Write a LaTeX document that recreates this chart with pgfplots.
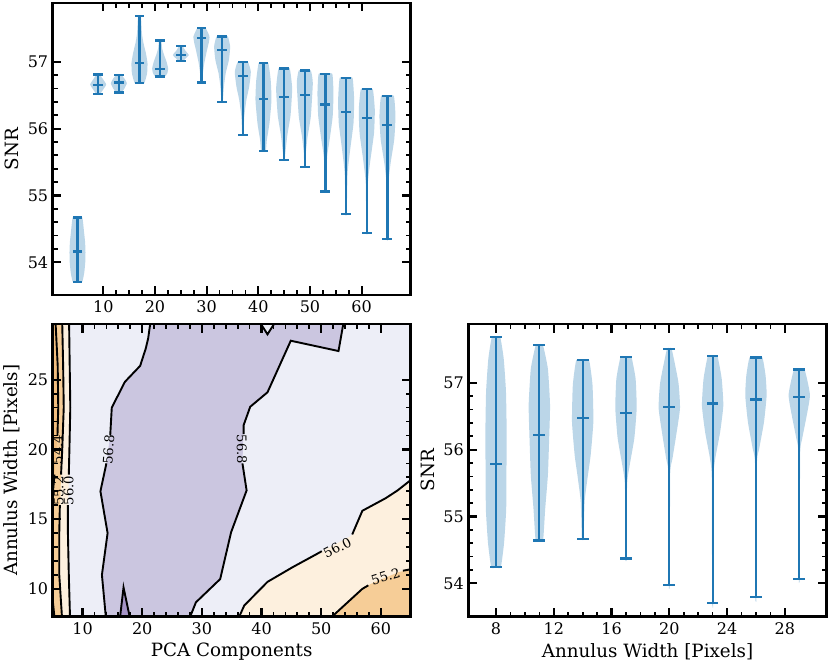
\documentclass[border=0pt]{standalone}
\usepackage{fontspec}
\setmainfont{DejaVu Serif}
\usepackage{pgfplots}
\pgfplotsset{compat=1.18}

\definecolor{vblue}{HTML}{1F77B4}
\definecolor{lev0}{HTML}{F2BE7F}
\definecolor{lev1}{HTML}{F6CD97}
\definecolor{lev2}{HTML}{FDF0DE}
\definecolor{lev3}{HTML}{EDEEF7}
\definecolor{lev4}{HTML}{CBC6E0}
\definecolor{lev5}{HTML}{A594C6}

\newcommand{\tickfont}{\fontsize{16}{19}\selectfont}
\newcommand{\labfont}{\fontsize{18.3}{21}\selectfont}
\newcommand{\clabfont}{\fontsize{13.2}{15}\selectfont}

\pgfplotsset{
  panel/.style={
    scale only axis,
    tick align=inside,
    tick pos=both,
    major tick length=8.5pt,
    minor tick length=4.8pt,
    major tick style={line width=2.2pt,black},
    minor tick style={line width=1.7pt,black},
    axis line style={line width=2.6pt},
    tick label style={font=\tickfont},
    /pgf/number format/assume math mode=true,
    scaled ticks=false,
    y tick label style={xshift=-1pt},
    x tick label style={yshift=-2pt},
    xlabel style={font=\labfont,at={(axis description cs:0.5,-0.12)},anchor=center},
    ylabel style={font=\labfont,at={(axis description cs:-0.1137,0.5)},anchor=center},
  },
  cline/.style={black,line width=1.9pt,no markers},
  vline/.style={vblue,line width=2.2pt,no markers,line cap=rect},
  vfill/.style={fill=vblue,fill opacity=0.3,draw=none,no markers,smooth,tension=0.3},
}

% centre, half width, cap half length, min, median, max, rows "y fraction\\"
\newcommand{\violin}[7]{%
  \addplot[vfill] table[x expr=#1+#2*\thisrow{f},y=y,row sep=\\] {y f\\ #4 0\\ #7 #6 0\\};
  \addplot[vfill] table[x expr=#1-#2*\thisrow{f},y=y,row sep=\\] {y f\\ #4 0\\ #7 #6 0\\};
  \pgfmathsetmacro{\xl}{#1-#3}\pgfmathsetmacro{\xr}{#1+#3}
  \addplot[vline] coordinates {(#1,#4) (#1,#6)};
  \addplot[vline] coordinates {(\xl,#4) (\xr,#4)};
  \addplot[vline] coordinates {(\xl,#5) (\xr,#5)};
  \addplot[vline] coordinates {(\xl,#6) (\xr,#6)};
}
\newcommand{\vtopp}[5]{\violin{#1}{1.55}{0.75}{#2}{#3}{#4}{#5}}
\newcommand{\vrgt}[5]{\violin{#1}{0.74}{0.33}{#2}{#3}{#4}{#5}}

\begin{document}
\begin{tikzpicture}
\path[use as bounding box] (0,0) rectangle (830pt,664pt);

% SNR against PCA components
\begin{axis}[panel,at={(52.7pt,369pt)},anchor=south west,width=358pt,height=292pt,
    xmin=0.2,xmax=69.5,ymin=53.51,ymax=57.88,
    xtick={10,20,30,40,50,60},ytick={54,55,56,57},
    minor x tick num=3,minor y tick num=4,
    ylabel={SNR}]
\vtopp{5}{53.71}{54.16}{54.67}{53.71 .6\\ 53.85 .85\\ 54.0 .97\\ 54.15 1\\ 54.3 .95\\ 54.45 .82\\ 54.67 .6\\}
\vtopp{9}{56.52}{56.65}{56.81}{56.52 .25\\ 56.58 .6\\ 56.66 1\\ 56.74 .6\\ 56.81 .2\\}
\vtopp{13}{56.54}{56.69}{56.80}{56.54 .35\\ 56.6 .7\\ 56.68 1\\ 56.75 .7\\ 56.80 .35\\}
\vtopp{17}{56.68}{56.98}{57.69}{56.68 .6\\ 56.83 .95\\ 56.98 1\\ 57.13 .8\\ 57.28 .5\\ 57.43 .3\\ 57.69 .18\\}
\vtopp{21}{56.78}{56.89}{57.32}{56.78 .6\\ 56.83 .9\\ 56.9 1\\ 57.0 .8\\ 57.1 .5\\ 57.2 .25\\ 57.32 .15\\}
\vtopp{25}{57.01}{57.10}{57.24}{57.01 .3\\ 57.05 .6\\ 57.10 1\\ 57.17 .55\\ 57.24 .2\\}
\vtopp{29}{56.69}{57.36}{57.51}{56.69 .1\\ 56.83 .18\\ 56.98 .35\\ 57.18 .7\\ 57.28 .9\\ 57.38 1\\ 57.51 .5\\}
\vtopp{33}{56.40}{57.18}{57.38}{56.4 .08\\ 56.63 .22\\ 56.83 .45\\ 57.03 .85\\ 57.23 1\\ 57.38 .7\\}
\vtopp{37}{55.90}{56.79}{56.995}{55.9 .08\\ 56.18 .18\\ 56.43 .45\\ 56.63 .8\\ 56.85 1\\ 56.995 .65\\}
\vtopp{41}{55.67}{56.44}{56.98}{55.67 .3\\ 55.83 .42\\ 56.08 .75\\ 56.43 1\\ 56.73 .9\\ 56.98 .6\\}
\vtopp{45}{55.53}{56.47}{56.90}{55.53 .1\\ 55.6 .12\\ 55.9 .4\\ 56.2 .8\\ 56.6 1\\ 56.9 .7\\}
\vtopp{49}{55.42}{56.50}{56.87}{55.42 .08\\ 55.63 .12\\ 55.88 .35\\ 56.18 .75\\ 56.68 1\\ 56.87 .75\\}
\vtopp{53}{55.06}{56.36}{56.82}{55.06 .07\\ 55.57 .2\\ 55.82 .5\\ 56.18 .9\\ 56.53 1\\ 56.82 .85\\}
\vtopp{57}{54.72}{56.25}{56.76}{54.72 .07\\ 55.33 .18\\ 55.68 .5\\ 56.08 .92\\ 56.43 1\\ 56.76 .8\\}
\vtopp{61}{54.44}{56.16}{56.59}{54.44 .07\\ 55.18 .13\\ 55.53 .45\\ 55.93 .9\\ 56.28 1\\ 56.59 .75\\}
\vtopp{65}{54.35}{56.05}{56.49}{54.35 .07\\ 55.19 .13\\ 55.49 .4\\ 55.84 .85\\ 56.19 1\\ 56.49 .8\\}
\end{axis}

% filled contours
\begin{axis}[panel,at={(52.7pt,47.3pt)},anchor=south west,width=358pt,height=292.7pt,
    axis on top,
    xmin=5,xmax=65,ymin=8,ymax=29,
    xtick={10,20,30,40,50,60},ytick={10,15,20,25},
    minor x tick num=4,minor y tick num=4,
    xlabel={PCA Components},ylabel={Annulus Width [Pixels]}]
\addplot[fill=lev3,draw=none,no markers] coordinates {(5,8) (65,8) (65,29) (5,29)};
% 56.8 to 57.6
\addplot[fill=lev4,draw=none,no markers] coordinates {(13.9,8) (13.25,11) (14.2,14) (13,17) (14,19) (14.64,21) (14.9,23) (17.1,24.85) (19.66,26) (20.6,27.25) (21,27.97) (21.34,29) (39.9,29) (41,28.26) (42.1,29) (53.7,29) (52.9,27.06) (44.9,27.8) (41,24.1) (38.1,23.06) (37,21.74) (36.8,19) (37.5,17.06) (34.9,14.06) (33.07,10.7) (29,9.03) (28.04,8)};
\addplot[fill=lev5,draw=none,no markers] coordinates {(16.3,8) (16.87,10.1) (17.9,8)};
% lower right corner
\addplot[fill=lev2,draw=none,no markers] coordinates {(36.26,8) (37.1,8.8) (41,10.5) (45.2,11.55) (49.1,12.46) (55,13.8) (56.9,15.6) (60.8,16.5) (62.8,17.06) (65,17.8) (65,8)};
\addplot[fill=lev1,draw=none,no markers] coordinates {(51.8,8) (56.9,10) (58.3,10.35) (63,11.2) (65,11.4) (65,8)};
% left edge
\addplot[fill=lev2,draw=none,no markers] coordinates {(5,8) (7.9,8) (7.7,11) (7.55,14) (7.65,17) (7.8,20) (7.95,23) (7.85,26) (7.75,29) (5,29)};
\addplot[fill=lev1,draw=none,no markers] coordinates {(5,8) (6.55,8) (6.1,11) (6.1,14) (6.3,17) (6.6,20) (6.85,23) (6.75,26) (6.6,29) (5,29)};
\addplot[fill=lev0,draw=none,no markers] coordinates {(5,16.9) (5.05,17) (5.64,20) (5.93,23) (5.84,26) (5.49,29) (5,29)};
\addplot[fill=lev0,draw=none,no markers] coordinates {(5,8) (5.28,8) (5,9.2)};
% contour lines, broken where the labels sit
\addplot[cline] coordinates {(13.9,8) (13.25,11) (14.2,14) (13,17) (14,19)};
\addplot[cline] coordinates {(14.64,21) (14.9,23) (17.1,24.85) (19.66,26) (20.6,27.25) (21,27.97) (21.34,29)};
\addplot[cline] coordinates {(28.04,8) (29,9.03) (33.07,10.7) (34.9,14.06) (37.5,17.06) (36.8,19)};
\addplot[cline] coordinates {(37,21.1) (37,21.74) (38.1,23.06) (41,24.1) (44.9,27.8) (52.9,27.06) (53.7,29)};
\addplot[cline] coordinates {(39.9,29) (41,28.26) (42.1,29)};
\addplot[cline] coordinates {(16.3,8) (16.87,10.1) (17.9,8)};
\addplot[cline] coordinates {(36.26,8) (37.1,8.8) (41,10.5) (45.2,11.55) (49.1,12.46) (50.1,12.7)};
\addplot[cline] coordinates {(55.2,13.9) (56.9,15.6) (60.8,16.5) (62.8,17.06) (65,17.8)};
\addplot[cline] coordinates {(51.8,8) (56.9,10) (57.9,10.25)};
\addplot[cline] coordinates {(63.7,11.3) (65,11.4)};
\addplot[cline] coordinates {(7.9,8) (7.7,11) (7.55,14) (7.55,16)};
\addplot[cline] coordinates {(7.7,18.2) (7.8,20) (7.95,23) (7.85,26) (7.75,29)};
\addplot[cline] coordinates {(6.55,8) (6.1,11) (6.1,14) (6.2,16)};
\addplot[cline] coordinates {(6.4,18.2) (6.6,20) (6.85,23) (6.75,26) (6.6,29)};
\addplot[cline] coordinates {(5.8,21) (5.93,23) (5.84,26) (5.49,29)};
\addplot[cline] coordinates {(5.3,18.2) (5.05,17) (5,16.9)};
\addplot[cline] coordinates {(5,9.2) (5.28,8)};
\node[rotate=86,font=\clabfont,inner sep=0pt] at (axis cs:14.36,20) {56.8};
\node[rotate=-89,font=\clabfont,inner sep=0pt] at (axis cs:36.7,20) {56.8};
\node[rotate=27,font=\clabfont,inner sep=0pt] at (axis cs:52.7,12.94) {56.0};
\node[rotate=17,font=\clabfont,inner sep=0pt] at (axis cs:60.8,10.9) {55.2};
\node[rotate=90,font=\clabfont,inner sep=0pt] at (axis cs:7.65,17.06) {56.0};
\node[rotate=90,font=\clabfont,inner sep=0pt] at (axis cs:6.0,17) {55.2};
\node[rotate=90,font=\clabfont,inner sep=0pt] at (axis cs:5.8,20) {54.4};
\end{axis}

% SNR against annulus width
\begin{axis}[panel,at={(468.3pt,47.3pt)},anchor=south west,width=358.4pt,height=292.7pt,
    xmin=6.08,xmax=30.9,ymin=53.5,ymax=57.88,
    xtick={8,12,16,20,24,28},ytick={54,55,56,57},
    minor x tick num=3,minor y tick num=4,
    xlabel={Annulus Width [Pixels]},ylabel={SNR}]
\vrgt{8}{54.24}{55.78}{57.68}{54.24 .45\\ 54.6 .75\\ 55.1 .95\\ 55.6 .97\\ 56.2 1\\ 56.87 .93\\ 57.36 .72\\ 57.68 .4\\}
\vrgt{11}{54.64}{56.22}{57.57}{54.64 .35\\ 55.12 .55\\ 55.62 .8\\ 56.22 .93\\ 56.67 1\\ 57.21 .8\\ 57.57 .33\\}
\vrgt{14}{54.66}{56.47}{57.34}{54.66 .08\\ 55.22 .18\\ 55.57 .45\\ 55.92 .75\\ 56.42 1\\ 56.97 .92\\ 57.34 .6\\}
\vrgt{17}{54.37}{56.55}{57.39}{54.37 .06\\ 55.47 .1\\ 55.77 .35\\ 56.17 .78\\ 56.62 1\\ 57.06 .9\\ 57.39 .5\\}
\vrgt{20}{53.97}{56.64}{57.51}{53.97 .05\\ 55.62 .08\\ 55.87 .3\\ 56.22 .65\\ 56.62 1\\ 57.01 .85\\ 57.51 .22\\}
\vrgt{23}{53.70}{56.69}{57.40}{53.7 .05\\ 55.57 .08\\ 55.87 .25\\ 56.26 .7\\ 56.66 1\\ 57.06 .85\\ 57.4 .45\\}
\vrgt{26}{53.79}{56.75}{57.38}{53.79 .05\\ 55.76 .08\\ 56.01 .3\\ 56.41 .75\\ 56.81 1\\ 57.11 .9\\ 57.38 .6\\}
\vrgt{29}{54.07}{56.79}{57.20}{54.07 .05\\ 55.92 .08\\ 56.17 .28\\ 56.47 .65\\ 56.82 1\\ 57.2 .5\\}
\end{axis}
\end{tikzpicture}
\end{document}
